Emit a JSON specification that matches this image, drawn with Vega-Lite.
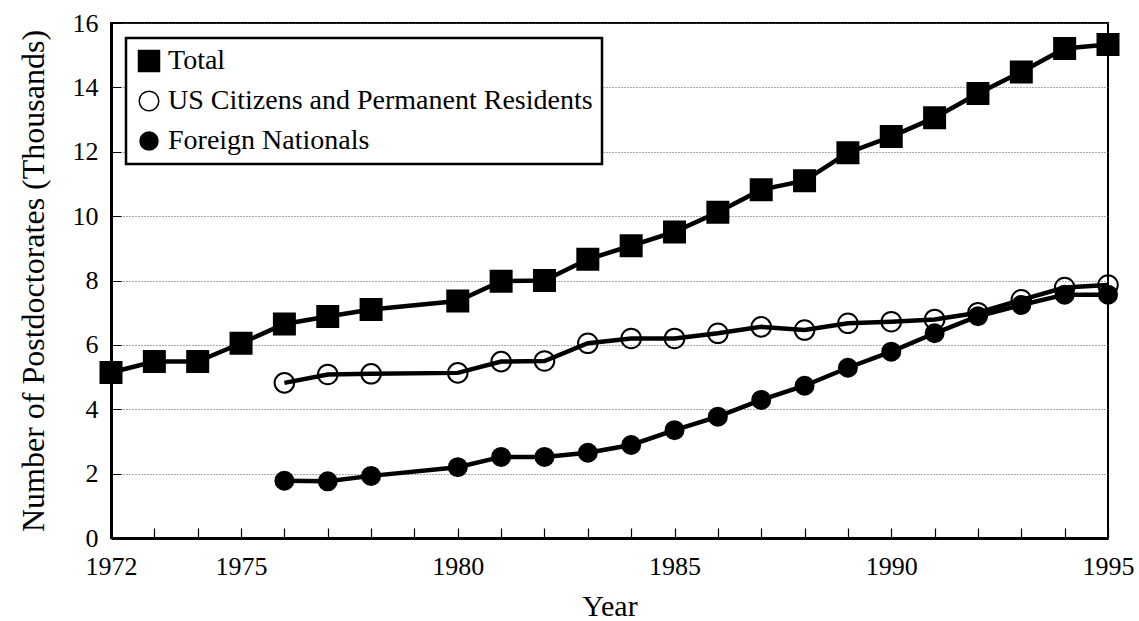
{
  "$schema": "https://vega.github.io/schema/vega-lite/v6.json",
  "width": 997,
  "height": 515,
  "autosize": {"type": "none"},
  "padding": {"left": 111, "top": 23, "right": 31, "bottom": 83},
  "background": "white",
  "config": {
    "view": {"stroke": "black", "strokeWidth": 2},
    "font": "Liberation Serif",
    "axis": {
      "labelFont": "Liberation Serif",
      "titleFont": "Liberation Serif",
      "labelColor": "black",
      "titleColor": "black",
      "domainColor": "black",
      "tickColor": "black",
      "titleFontWeight": "normal"
    },
    "legend": {
      "strokeColor": "black",
      "strokeWidth": 2.5,
      "fillColor": "white",
      "padding": 9,
      "labelFont": "Liberation Serif",
      "labelFontSize": 28,
      "labelColor": "black",
      "labelLimit": 600,
      "rowPadding": 12,
      "labelOffset": 5
    }
  },
  "data": {
    "values": [
      {"year": 1972, "series": "Total", "value": 5.14},
      {"year": 1973, "series": "Total", "value": 5.48},
      {"year": 1974, "series": "Total", "value": 5.48},
      {"year": 1975, "series": "Total", "value": 6.05},
      {"year": 1976, "series": "Total", "value": 6.65},
      {"year": 1977, "series": "Total", "value": 6.88},
      {"year": 1978, "series": "Total", "value": 7.1},
      {"year": 1980, "series": "Total", "value": 7.36},
      {"year": 1981, "series": "Total", "value": 7.98},
      {"year": 1982, "series": "Total", "value": 8.0},
      {"year": 1983, "series": "Total", "value": 8.66},
      {"year": 1984, "series": "Total", "value": 9.08},
      {"year": 1985, "series": "Total", "value": 9.51},
      {"year": 1986, "series": "Total", "value": 10.12},
      {"year": 1987, "series": "Total", "value": 10.82},
      {"year": 1988, "series": "Total", "value": 11.1},
      {"year": 1989, "series": "Total", "value": 11.97},
      {"year": 1990, "series": "Total", "value": 12.47},
      {"year": 1991, "series": "Total", "value": 13.06},
      {"year": 1992, "series": "Total", "value": 13.81},
      {"year": 1993, "series": "Total", "value": 14.48},
      {"year": 1994, "series": "Total", "value": 15.21},
      {"year": 1995, "series": "Total", "value": 15.33},
      {"year": 1976, "series": "US Citizens and Permanent Residents", "value": 4.82},
      {"year": 1977, "series": "US Citizens and Permanent Residents", "value": 5.08},
      {"year": 1978, "series": "US Citizens and Permanent Residents", "value": 5.1},
      {"year": 1980, "series": "US Citizens and Permanent Residents", "value": 5.13},
      {"year": 1981, "series": "US Citizens and Permanent Residents", "value": 5.48},
      {"year": 1982, "series": "US Citizens and Permanent Residents", "value": 5.5},
      {"year": 1983, "series": "US Citizens and Permanent Residents", "value": 6.05},
      {"year": 1984, "series": "US Citizens and Permanent Residents", "value": 6.2},
      {"year": 1985, "series": "US Citizens and Permanent Residents", "value": 6.2},
      {"year": 1986, "series": "US Citizens and Permanent Residents", "value": 6.36},
      {"year": 1987, "series": "US Citizens and Permanent Residents", "value": 6.56},
      {"year": 1988, "series": "US Citizens and Permanent Residents", "value": 6.46},
      {"year": 1989, "series": "US Citizens and Permanent Residents", "value": 6.67},
      {"year": 1990, "series": "US Citizens and Permanent Residents", "value": 6.72},
      {"year": 1991, "series": "US Citizens and Permanent Residents", "value": 6.79},
      {"year": 1992, "series": "US Citizens and Permanent Residents", "value": 7.0},
      {"year": 1993, "series": "US Citizens and Permanent Residents", "value": 7.4},
      {"year": 1994, "series": "US Citizens and Permanent Residents", "value": 7.78},
      {"year": 1995, "series": "US Citizens and Permanent Residents", "value": 7.86},
      {"year": 1976, "series": "Foreign Nationals", "value": 1.78},
      {"year": 1977, "series": "Foreign Nationals", "value": 1.76},
      {"year": 1978, "series": "Foreign Nationals", "value": 1.93},
      {"year": 1980, "series": "Foreign Nationals", "value": 2.2},
      {"year": 1981, "series": "Foreign Nationals", "value": 2.52},
      {"year": 1982, "series": "Foreign Nationals", "value": 2.52},
      {"year": 1983, "series": "Foreign Nationals", "value": 2.65},
      {"year": 1984, "series": "Foreign Nationals", "value": 2.89},
      {"year": 1985, "series": "Foreign Nationals", "value": 3.35},
      {"year": 1986, "series": "Foreign Nationals", "value": 3.77},
      {"year": 1987, "series": "Foreign Nationals", "value": 4.29},
      {"year": 1988, "series": "Foreign Nationals", "value": 4.73},
      {"year": 1989, "series": "Foreign Nationals", "value": 5.29},
      {"year": 1990, "series": "Foreign Nationals", "value": 5.79},
      {"year": 1991, "series": "Foreign Nationals", "value": 6.36},
      {"year": 1992, "series": "Foreign Nationals", "value": 6.89},
      {"year": 1993, "series": "Foreign Nationals", "value": 7.24},
      {"year": 1994, "series": "Foreign Nationals", "value": 7.56},
      {"year": 1995, "series": "Foreign Nationals", "value": 7.56}
    ]
  },
  "encoding": {
    "x": {
      "field": "year",
      "type": "quantitative",
      "scale": {"domain": [1972, 1995], "nice": false, "zero": false},
      "axis": {
        "title": "Year",
        "titleFontSize": 30,
        "titlePadding": 12,
        "values": [1972,1973,1974,1975,1976,1977,1978,1979,1980,1981,1982,1983,1984,1985,1986,1987,1988,1989,1990,1991,1992,1993,1994,1995],
        "format": "d",
        "labelExpr": "indexof([1972,1975,1980,1985,1990,1995], datum.value) >= 0 ? datum.label : ''",
        "labelFontSize": 26,
        "labelPadding": 25,
        "labelOverlap": false,
        "labelFlush": false,
        "labelBound": false,
        "tickSize": -10,
        "tickWidth": 1.2,
        "domainWidth": 3,
        "grid": false
      }
    },
    "y": {
      "field": "value",
      "type": "quantitative",
      "scale": {"domain": [0, 16], "nice": false},
      "axis": {
        "title": "Number of Postdoctorates (Thousands)",
        "titleFontSize": 32,
        "titlePadding": 22,
        "values": [0, 2, 4, 6, 8, 10, 12, 14, 16],
        "labelFontSize": 26,
        "labelPadding": 23,
        "labelOverlap": false,
        "labelFlush": false,
        "labelBound": false,
        "tickSize": -10,
        "tickWidth": 1,
        "domainWidth": 3,
        "grid": true,
        "gridColor": "#555555",
        "gridDash": [1, 2],
        "gridWidth": 1.2
      }
    }
  },
  "layer": [
    {
      "mark": {"type": "line", "color": "black", "strokeWidth": 4.5},
      "encoding": {"detail": {"field": "series"}}
    },
    {
      "mark": {"type": "point", "filled": true, "stroke": "black", "strokeWidth": 2, "opacity": 1},
      "encoding": {
        "shape": {
          "field": "series",
          "type": "nominal",
          "scale": {
            "domain": ["Total", "US Citizens and Permanent Residents", "Foreign Nationals"],
            "range": ["square", "circle", "circle"]
          },
          "legend": {"title": null, "orient": "top-left", "offset": 15, "encode": {"symbols": {"update": {"stroke": {"value": "black"}, "strokeWidth": {"value": 2}, "shape": {"signal": "datum.value === 'Total' ? 'M-1,-0.6L1,-0.6L1,0.6L-1,0.6Z' : (datum.value === 'Foreign Nationals' ? 'M-1,0L-0.5,0L-0.35,-0.35L0,-0.5L0.35,-0.35L0.5,0L1,0L0.5,0L0.35,0.35L0,0.5L-0.35,0.35L-0.5,0Z' : 'M-1,0L1,0M-0.6,-0.45L-1,0L-0.6,0.45M0.6,-0.45L1,0L0.6,0.45')"}}}}}
        },
        "fill": {
          "field": "series",
          "type": "nominal",
          "scale": {
            "domain": ["Total", "US Citizens and Permanent Residents", "Foreign Nationals"],
            "range": ["black", "transparent", "black"]
          },
          "legend": {"title": null, "orient": "top-left", "offset": 15, "encode": {"symbols": {"update": {"stroke": {"value": "black"}, "strokeWidth": {"value": 2}, "shape": {"signal": "datum.value === 'Total' ? 'M-1,-0.6L1,-0.6L1,0.6L-1,0.6Z' : (datum.value === 'Foreign Nationals' ? 'M-1,0L-0.5,0L-0.35,-0.35L0,-0.5L0.35,-0.35L0.5,0L1,0L0.5,0L0.35,0.35L0,0.5L-0.35,0.35L-0.5,0Z' : 'M-1,0L1,0M-0.6,-0.45L-1,0L-0.6,0.45M0.6,-0.45L1,0L0.6,0.45')"}}}}}
        },
        "size": {
          "field": "series",
          "type": "nominal",
          "scale": {
            "domain": ["Total", "US Citizens and Permanent Residents", "Foreign Nationals"],
            "range": [441, 324, 121]
          },
          "legend": {"title": null, "orient": "top-left", "offset": 15, "encode": {"symbols": {"update": {"stroke": {"value": "black"}, "strokeWidth": {"value": 2}, "shape": {"signal": "datum.value === 'Total' ? 'M-1,-0.6L1,-0.6L1,0.6L-1,0.6Z' : (datum.value === 'Foreign Nationals' ? 'M-1,0L-0.5,0L-0.35,-0.35L0,-0.5L0.35,-0.35L0.5,0L1,0L0.5,0L0.35,0.35L0,0.5L-0.35,0.35L-0.5,0Z' : 'M-1,0L1,0M-0.6,-0.45L-1,0L-0.6,0.45M0.6,-0.45L1,0L0.6,0.45')"}}}}}
        }
      }
    }
  ]
}
